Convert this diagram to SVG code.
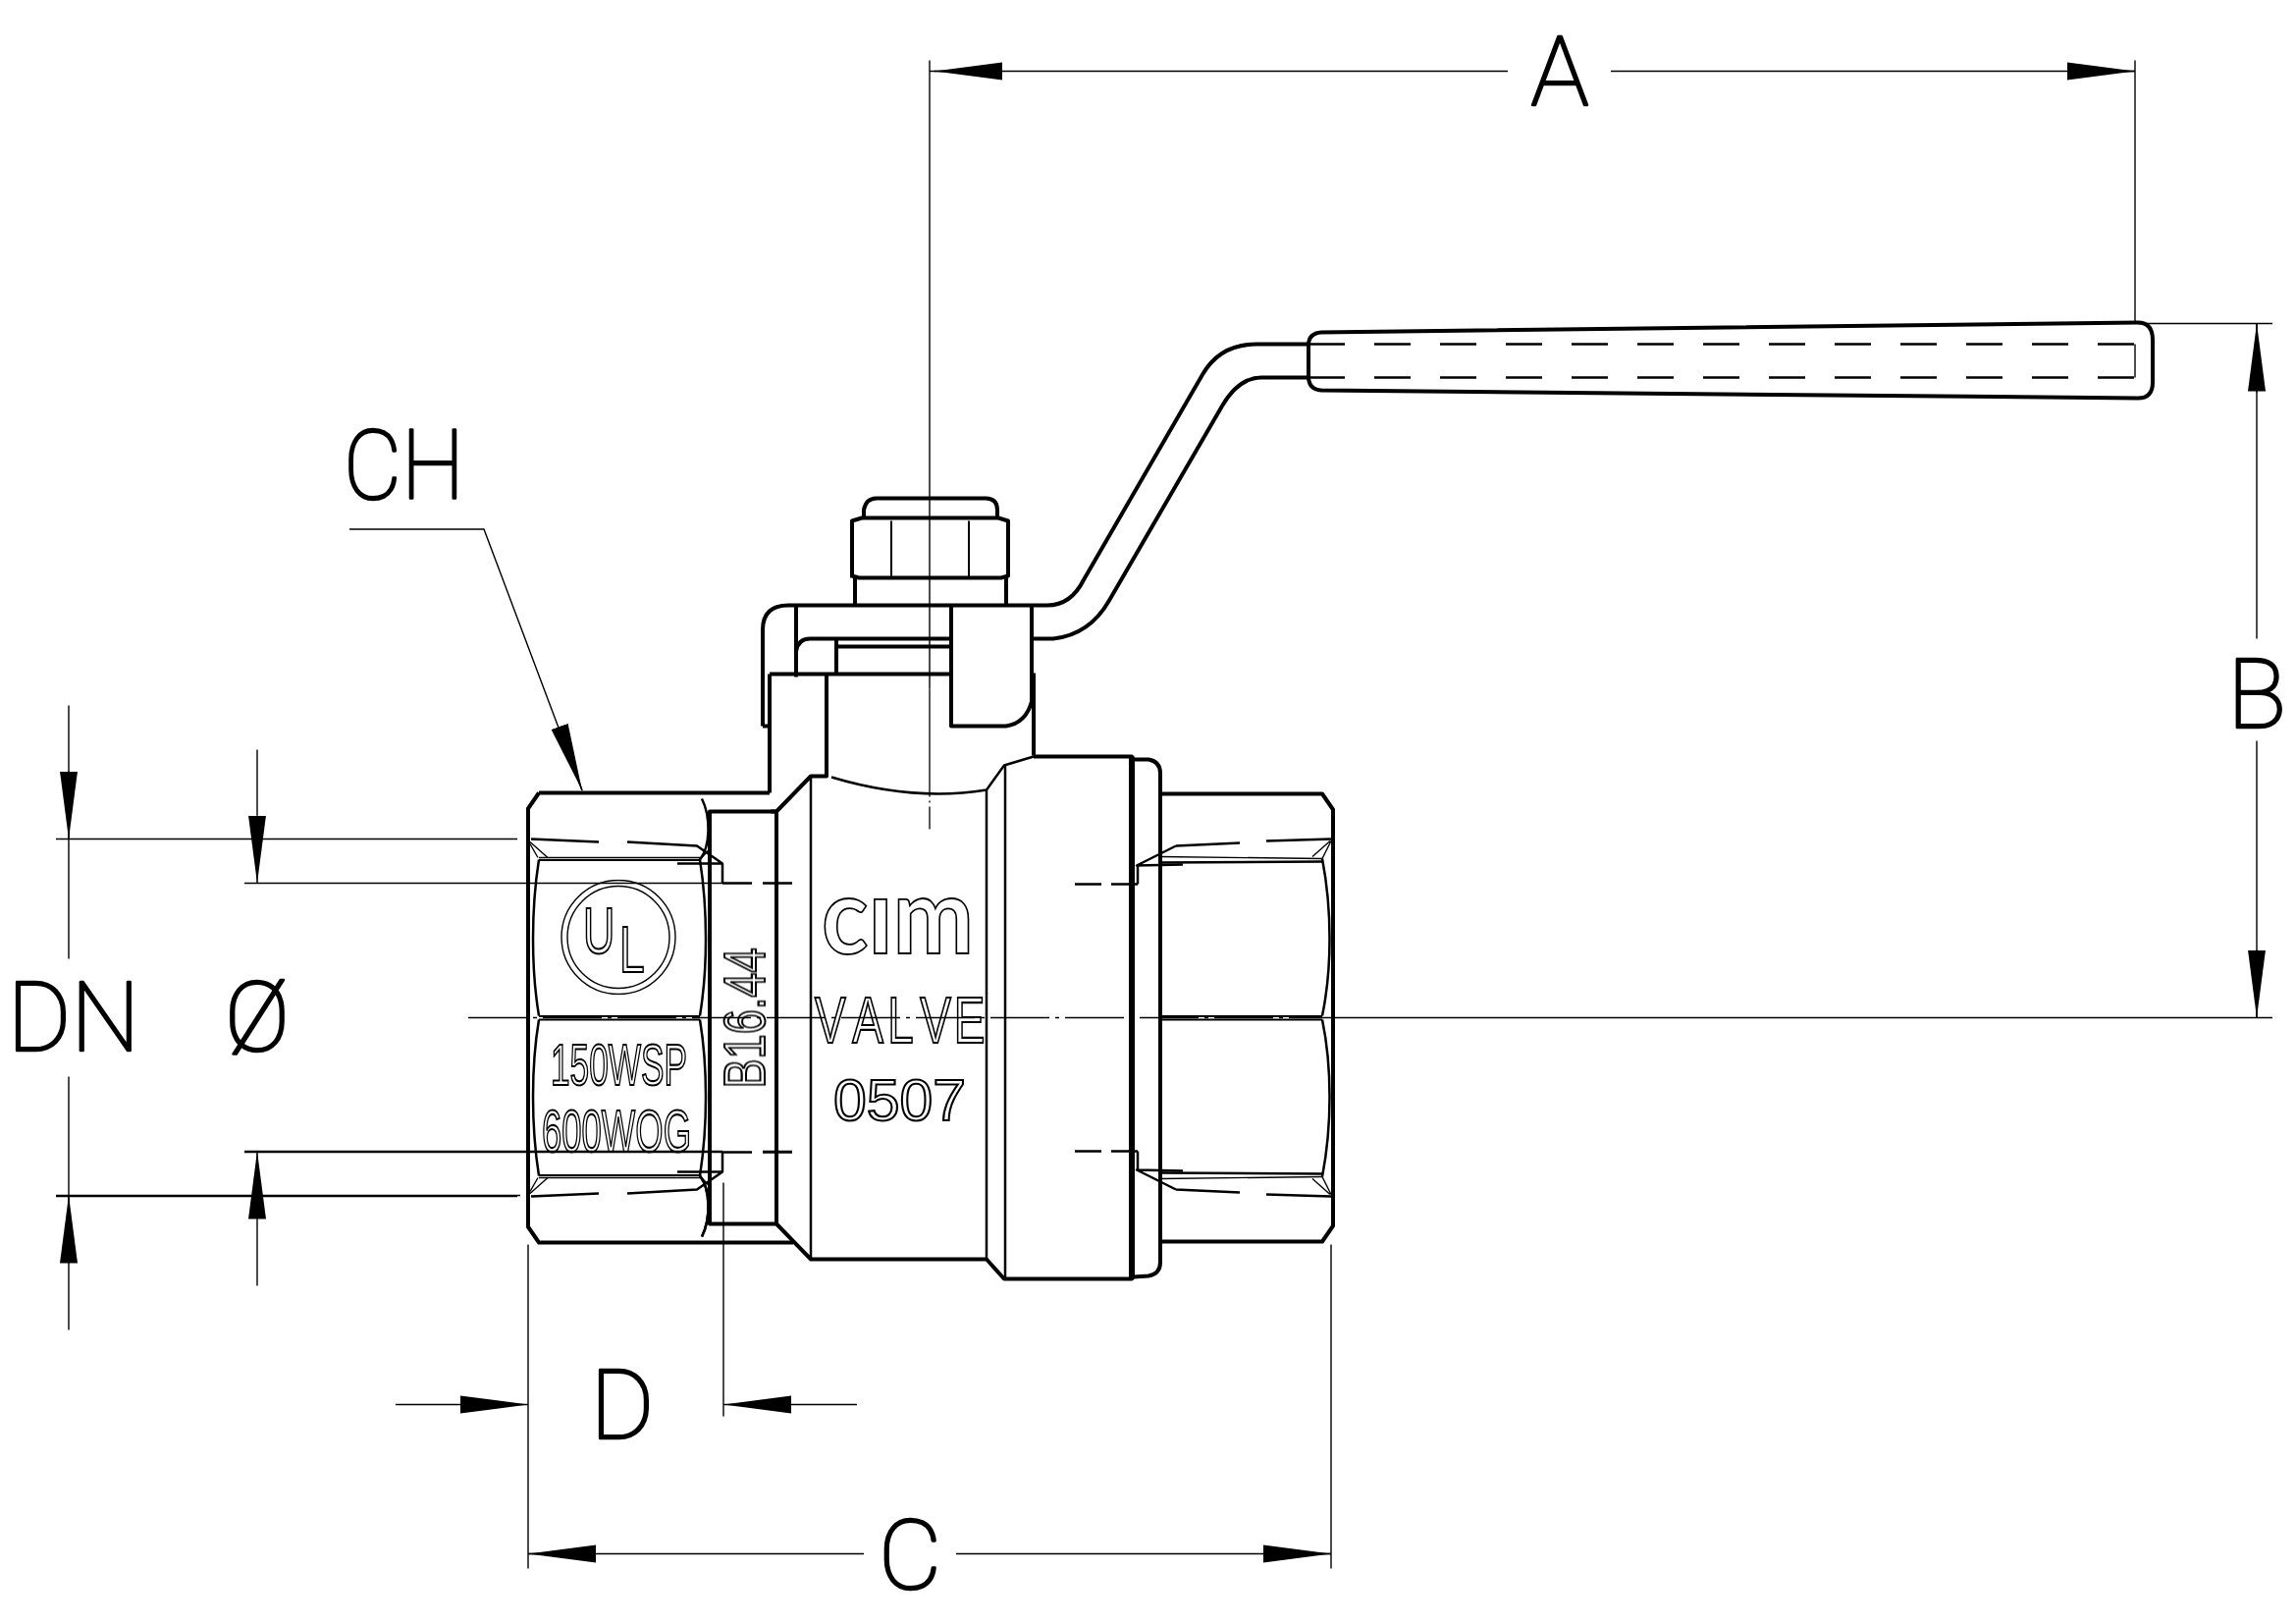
<svg xmlns="http://www.w3.org/2000/svg" width="2339" height="1654" viewBox="0 0 2339 1654">
<style>
.h{fill:none;stroke:#000;stroke-width:4;stroke-linejoin:round}
.m{fill:none;stroke:#000;stroke-width:2.5;stroke-linejoin:round}
.t{fill:none;stroke:#000;stroke-width:1.4}
.cl{fill:none;stroke:#000;stroke-width:1.3;stroke-dasharray:110 4 2 4}
.lab{font-family:Roboto,"Liberation Sans",sans-serif;font-weight:100;font-size:99px;fill:#000;stroke:#000;stroke-width:2.6;stroke-linejoin:round}
.mk{font-family:"Liberation Sans",Arial,sans-serif;fill:#fff;stroke:#000;stroke-width:2.1}
</style>
<defs>
<marker id="a" markerUnits="userSpaceOnUse" markerWidth="70" markerHeight="20" refX="69" refY="10" orient="auto"><path d="M0 1 L69 10 L0 19Z" fill="#000"/></marker>
<clipPath id="noDot"><rect x="820" y="912" width="190" height="70"/></clipPath>
<g id="leftHalf">
<path class="m" d="M713 874C721 925 721 985 713 1033M549 874C541 925 541 985 549 1033"/>
<path class="m" d="M715 812C724 830 724 860 713 874"/>
<path class="t" d="M549 872L713 872"/>
<path class="h" style="stroke-width:2.2" d="M549 874.500L713 874.500"/>
<path class="m" d="M541 853L610 856M639 856L710 860L736 878V898M690 878H736M736 898H766M777 898H807"/>
<path class="t" d="M540 856L558 872M548 872L540 858M713 874L724 862"/>
<path class="t" d="M249 898H736M57 853H527"/>
</g>
<g id="rightHalf">
<path class="m" d="M1347 873C1357 925 1357 985 1347 1033"/>
<path class="t" d="M1182 871L1347 873"/>
<path class="m" d="M1182 877L1347 876"/>
<path class="m" d="M1290 855L1356 853M1198 860L1263 857M1198 860L1158 880L1205 879M1159 880V899M1095 899H1122M1132 899H1159"/>
<path class="t" d="M1337 871L1355 855M1347 873L1356 855"/>
</g>
</defs>
<rect width="2339" height="1654" fill="#fff"/>
<g transform="translate(0 1.500)">
<g id="handle">
<path class="h" d="M1346 337L2178 327Q2193 327 2193 345V388Q2193 404 2178 404L1346 396Q1333 395 1333 382V350Q1333 338 1346 337Z"/>
<path class="m" d="M1333 349H2175M1333 383H2175" style="stroke-dasharray:37 30"/>
<path class="t" d="M2175 349V383"/>
<path class="h" d="M1067 615C1085 615 1097 603 1104 589L1225 380Q1243 349 1280 349H1333"/>
<path class="h" d="M1052 649H1073Q1110 645 1130 610L1245 412Q1262 383 1285 383H1333"/>
</g>
<g id="stem-nut">
<path class="h" d="M880 526V518Q882 506 893 506H1004Q1016 506 1016 518V526"/>
<path class="h" d="M868 587V529L878 526H1017L1027 529V585L1020 587H875L868 585"/>
<path class="t" style="stroke-width:2" d="M908 529V586M987 529V586"/>
<path class="h" d="M871 587V615M1025 587V615"/>
<path class="h" d="M777 738V640Q777 615 803 615H1067"/>
<path class="h" d="M777 738H784"/>
<path class="h" d="M811 615V688M811 662Q813 649 825 649H969M853 657H969M852 650V685M784 685H969"/>
<path class="h" d="M969 615V738H1025Q1045 735 1051 713V615M1053 684V768"/>
</g>
<g id="body">
<path class="h" d="M784 685V806M842 685V789H826L791 825H723V1245H791L826 1281H1005L1023 1301H1153V769H1053"/>
<path class="h" d="M791 825V1245"/>
<path class="h" d="M549 806H784M549 806L538 822V1248L549 1264H808"/>
<path class="h" d="M785 825H791"/>
<path class="m" d="M826 789V1281M847 790Q930 815 1005 803L1023 778L1053 769"/>
<path class="m" d="M1005 803V1281M1024 778V1301"/>
<path class="h" d="M1155 772H1170Q1182 774 1182 786V1284Q1182 1296 1170 1298L1155 1299"/>
<path class="h" d="M1182 807H1347L1358 823V1247L1347 1263H1182"/>
<path class="h" style="stroke-width:6" d="M1153 769V1301"/>
<path class="m" d="M715 1258C724 1240 724 1210 713 1196"/>
<use href="#leftHalf"/><use href="#leftHalf" transform="matrix(1 0 0 -1 0 2070)"/>
<use href="#rightHalf"/><use href="#rightHalf" transform="matrix(1 0 0 -1 0 2070)"/>
<path class="h" style="stroke-width:2" d="M549 1033.500H713M549 1037H713M1182 1033.500H1347M1182 1037H1347"/>
</g>
<g id="markings" opacity="0.999">
<circle class="t" cx="630" cy="953" r="58"/><circle class="t" cx="630" cy="953" r="52"/>
<text class="mk" transform="translate(594 969) scale(.68 1)" font-size="66">U</text>
<text class="mk" transform="translate(631 988) scale(.7 1)" font-size="66">L</text>
<text class="mk" x="561" y="1103" font-size="60" textLength="139" lengthAdjust="spacingAndGlyphs">150WSP</text>
<text class="mk" x="552" y="1171" font-size="62" textLength="152" lengthAdjust="spacingAndGlyphs">600WOG</text>
<text class="mk" transform="translate(779 1107) rotate(-90)" font-size="60" textLength="143" lengthAdjust="spacingAndGlyphs">B16.44</text>
<g clip-path="url(#noDot)"><text x="837" y="969" style="font-family:Lato,'Noto Sans',sans-serif;font-weight:700;fill:#fff;stroke:#000;stroke-width:1.8" font-size="108" textLength="155" lengthAdjust="spacingAndGlyphs">cim</text></g>
<text class="mk" transform="translate(830 1060) scale(.72 1)" x="0 53 103 149 197" font-size="66">VALVE</text>
<text class="mk" x="849" y="1139" font-size="60" textLength="135" lengthAdjust="spacingAndGlyphs">0507</text>
</g>
<g id="connectors">
<path class="t" d="M947 60V700"/>
<path class="cl" d="M947 700V843"/>
<path class="t" d="M477 1035H1372" style="stroke-dasharray:60 6 4 6"/>
<path class="t" d="M1372 1035H2315"/>
<path class="t" d="M947 71H1536M1641 71H2175M2175 60V328M2178 328H2315"/>
<path class="t" d="M1021 71H952" marker-end="url(#a)"/>
<path class="t" d="M2106 71H2175" marker-end="url(#a)"/>
<path class="t" d="M2299 328V649M2299 753V1035"/>
<path class="t" d="M2299 398V328" marker-end="url(#a)"/>
<path class="t" d="M2299 966V1035" marker-end="url(#a)"/>
<path class="t" d="M356 537.500H493L593 803.500"/>
<path class="t" d="M571 741L593 803.500" marker-end="url(#a)"/>
<path class="t" d="M70 717V975M70 1095V1353M57 1216H530"/>
<path class="t" d="M70 784V853" marker-end="url(#a)"/>
<path class="t" d="M70 1285V1216" marker-end="url(#a)"/>
<path class="t" d="M262 762V829M262 1240V1308M249 1171H736M777 1171H807"/>
<path class="t" d="M262 829V898" marker-end="url(#a)"/>
<path class="t" d="M262 1240V1171" marker-end="url(#a)"/>
<path class="t" d="M538 1266V1596M1356 1266V1596M737 1203V1441"/>
<path class="t" d="M403 1429H470M806 1429H873"/>
<path class="t" d="M469 1429H538" marker-end="url(#a)"/>
<path class="t" d="M806 1429H737" marker-end="url(#a)"/>
<path class="t" d="M538 1581H880M974 1581H1356"/>
<path class="t" d="M607 1581H538" marker-end="url(#a)"/>
<path class="t" d="M1287 1581H1356" marker-end="url(#a)"/>
</g>
</g>
<g id="labels">
<text class="lab" x="1589" y="107" text-anchor="middle">A</text>
<text class="lab" x="2299" y="741" text-anchor="middle">B</text>
<text class="lab" x="927" y="1618" text-anchor="middle">C</text>
<text class="lab" x="634" y="1465" text-anchor="middle">D</text>
<text class="lab" x="350" y="508" textLength="123" lengthAdjust="spacingAndGlyphs">CH</text>
<text class="lab" x="75" y="1070" text-anchor="middle">DN</text>
<text class="lab" x="262" y="1070" text-anchor="middle">Ø</text>
</g>
</svg>
